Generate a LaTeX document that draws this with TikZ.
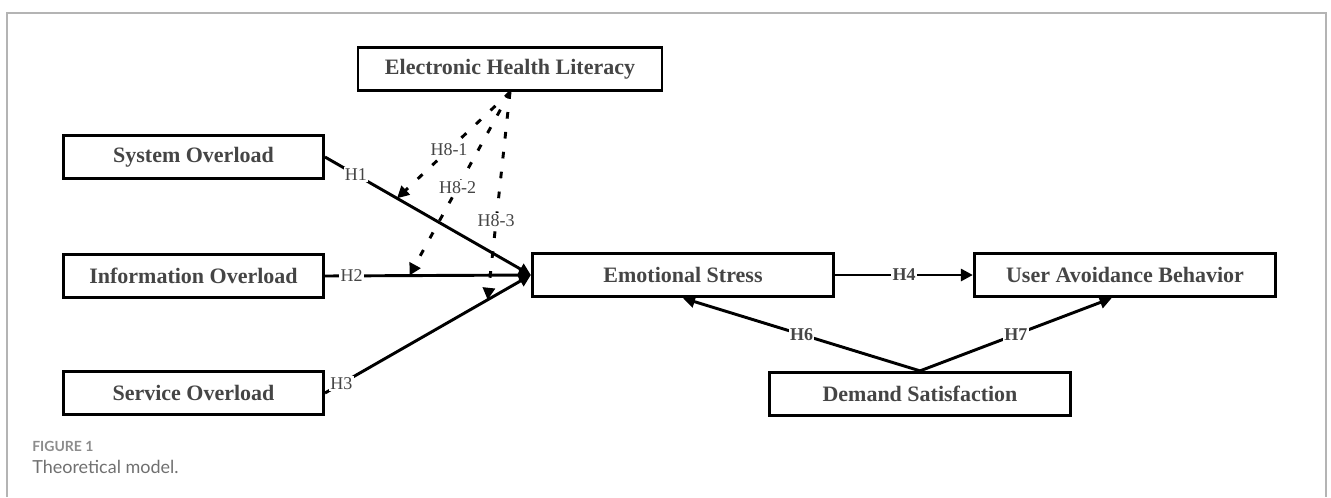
\documentclass[tikz,border=0pt]{standalone}
\usepackage{fontspec}
\setmainfont{Liberation Serif}
\newfontfamily\capfont{Lato}
\usetikzlibrary{arrows.meta}

\definecolor{txtgray}{HTML}{454545}
\definecolor{framegray}{HTML}{B4B4B4}
\definecolor{capgray}{HTML}{8C8C8C}
\definecolor{subgray}{HTML}{707070}

\begin{document}
\begin{tikzpicture}[x=0.75pt,y=-0.75pt,
    var/.style={draw, line width=2.2pt, minimum height=32.5pt, inner sep=0pt,
        text=txtgray, font=\bfseries\fontsize{16.5}{18}\selectfont},
    arr/.style={line width=2.2pt, -{Triangle[length=9pt,width=9pt]}},
    dasharr/.style={arr, dash pattern=on 5pt off 10pt},
    hlab/.style={fill=white, inner sep=1pt, text=txtgray,
        font=\fontsize{13.5}{15}\selectfont},
    hlabb/.style={hlab, font=\bfseries\fontsize{13.5}{15}\selectfont}]

\useasboundingbox (0,0) rectangle (1331,497);

% Frame
\draw[framegray, line width=0.9pt] (7,497) -- (7,13) -- (1326,13) -- (1326,497);

% Variables
\node[var, minimum width=228pt] (ehl) at (510,69) {Electronic Health Literacy};
\node[var, minimum width=195pt] (so) at (193.5,157) {System Overload};
\node[var, minimum width=195pt] (io) at (193.5,276) {Information Overload};
\node[var, minimum width=195pt] (sv) at (193.5,393) {Service Overload};
\node[var, minimum width=226pt] (es) at (683,275) {Emotional Stress};
\node[var, minimum width=226pt] (uab) at (1125,275) {User Avoidance Behavior};
\node[var, minimum width=226pt] (ds) at (920,394) {Demand Satisfaction};

% Direct paths
\draw[arr] (so.east) -- node[hlab, pos=0.15] {H1} coordinate[pos=0.35] (m1) (es.west);
\draw[arr] (io.east) -- node[hlab, pos=0.13] {H2} coordinate[pos=0.41] (m2) (es.west);
\draw[arr] (sv.east) -- node[hlab, pos=0.08] {H3} coordinate[pos=0.79] (m3) (es.west);
\draw[arr] (es.east) -- node[hlabb] {H4} (uab.west);
\draw[arr] (ds.north) -- node[hlabb] {H6} (es.south);
\draw[arr] (ds.north) -- node[hlabb] {H7} ([xshift=-10pt]uab.south);

% Moderation
\draw[dasharr] (ehl.south) -- node[hlab, pos=0.54] {H8-1} (m1);
\draw[dasharr] (ehl.south) -- node[hlab, pos=0.52] {H8-2} (m2);
\draw[dasharr] (ehl.south) -- node[hlab, pos=0.62] {H8-3} (m3);

% Caption
\node[anchor=base west, inner sep=0pt, text=capgray, font=\capfont\bfseries\fontsize{10.5}{12}\selectfont] (fig) at (32,451) {FIGURE 1};
\node[anchor=base west, inner sep=0pt, text=subgray, font=\capfont\fontsize{13.5}{15}\selectfont] (title) at (32,473) {Theoretical model.};

\end{tikzpicture}
\end{document}
